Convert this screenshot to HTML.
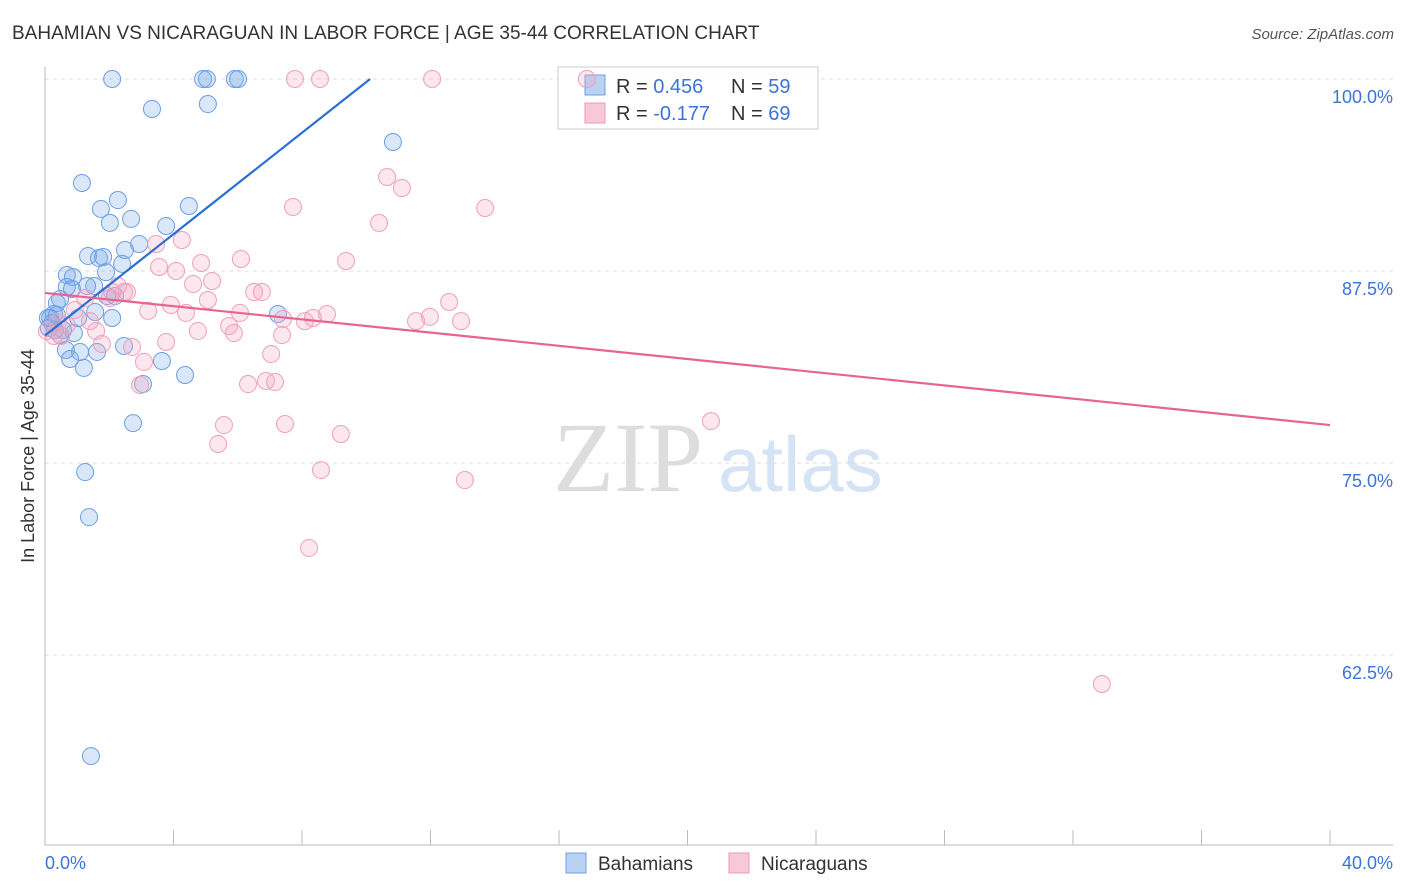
<!DOCTYPE html>
<html><head><meta charset="utf-8"><style>
body{margin:0;background:#fff;font-family:"Liberation Sans",sans-serif;}
svg{display:block}
</style></head><body>
<svg width="1406" height="892">
<text x="12" y="39" font-size="19" fill="#333">BAHAMIAN VS NICARAGUAN IN LABOR FORCE | AGE 35-44 CORRELATION CHART</text>
<text x="1394" y="39" font-size="15" fill="#555" font-style="italic" text-anchor="end">Source: ZipAtlas.com</text>
<g id="grid"></g>
<text x="553" y="491" font-size="100" fill="#ddd" font-family="Liberation Serif">ZIP</text>
<text x="718" y="491" font-size="78" fill="#d5e3f5">atlas</text>
<g id="pts"></g>
<g id="lines"></g>
<text transform="translate(34,456) rotate(-90)" font-size="18" fill="#333" text-anchor="middle">In Labor Force | Age 35-44</text>
<text x="45" y="869" font-size="18" fill="#3a74d8">0.0%</text>
<text x="1393" y="869" font-size="18" fill="#3a74d8" text-anchor="end">40.0%</text>
<g>
<rect x="558" y="67" width="260" height="62" fill="#fff" fill-opacity="0.85" stroke="#ccc"/>
<rect x="585" y="75" width="20" height="20" fill="#b9d2f3" stroke="#6f9fe0"/>
<rect x="585" y="103" width="20" height="20" fill="#f8c8d6" stroke="#ec9ab5"/>
<text x="616" y="93" font-size="20" fill="#333">R = <tspan fill="#3a74d8">0.456</tspan><tspan x="731">N = </tspan><tspan fill="#3a74d8">59</tspan></text>
<text x="616" y="120" font-size="20" fill="#333">R = <tspan fill="#3a74d8">-0.177</tspan><tspan x="731">N = </tspan><tspan fill="#3a74d8">69</tspan></text>
</g>
<g>
<rect x="566" y="853" width="20" height="20" fill="#b9d2f3" stroke="#6f9fe0"/>
<text x="598" y="870" font-size="19" fill="#333">Bahamians</text>
<rect x="729" y="853" width="20" height="20" fill="#f8c8d6" stroke="#ec9ab5"/>
<text x="761" y="870" font-size="19" fill="#333">Nicaraguans</text>
</g>
<g id="topG"></g>
</svg>
<script>
const yTicks=[100,87.5,75,62.5];
const yTickLabels=["100.0%","87.5%","75.0%","62.5%"];
const blueX=[2.09,4.92,5.04,5.91,6.01,3.33,5.07,10.83,1.15,2.27,1.74,2.68,2.02,3.77,4.48,2.93,2.49,1.34,1.68,1.81,2.40,0.68,0.87,1.90,0.68,0.84,1.53,1.31,0.47,0.37,1.93,2.18,0.28,0.37,0.16,0.22,1.03,2.09,1.56,0.12,0.56,0.90,2.46,0.65,1.09,1.62,0.78,3.64,1.21,4.36,3.05,2.74,1.25,1.37,1.43,7.25,0.31,0.47,0.09];
const blueY=[100,100,100,100,100,98.05,98.37,95.90,93.23,92.12,91.54,90.89,90.63,90.43,91.73,89.26,88.87,88.48,88.35,88.41,87.96,87.24,87.11,87.43,86.46,86.33,86.52,86.52,85.68,85.42,85.87,85.87,84.70,84.64,84.44,84.11,84.44,84.44,84.83,83.79,83.66,83.46,82.62,82.36,82.23,82.23,81.77,81.64,81.19,80.73,80.14,77.60,74.41,71.48,55.92,84.70,83.66,83.33,84.44];
const pinkX=[7.78,8.56,12.05,16.87,10.65,11.11,7.72,13.70,10.40,4.26,3.46,9.37,4.86,6.10,3.55,4.08,5.20,4.61,6.51,6.75,2.46,2.27,2.09,2.55,12.58,3.92,5.07,3.21,4.39,6.07,7.41,8.09,8.34,8.78,11.55,11.98,12.95,1.40,5.73,4.76,5.88,1.59,7.38,0.50,0.28,0.06,1.77,2.71,3.77,7.04,3.08,2.96,6.32,6.88,7.16,5.57,7.47,9.21,5.39,8.59,13.07,20.73,8.22,32.90,0.40,0.93,1.25,0.68,2.02];
const pinkY=[100,100,100,100,93.62,92.90,91.67,91.60,90.63,89.52,89.26,88.15,88.02,88.28,87.76,87.50,86.85,86.65,86.13,86.13,86.13,86.52,86.13,86.13,85.48,85.29,85.61,84.90,84.77,84.77,84.38,84.24,84.44,84.70,84.24,84.51,84.24,84.24,83.92,83.59,83.46,83.59,83.33,83.27,83.27,83.59,82.75,82.55,82.88,82.10,81.58,80.08,80.14,80.34,80.27,77.47,77.54,76.89,76.24,74.54,73.89,77.73,69.47,60.61,84.18,84.96,85.74,83.98,85.74];
const blueTrend=[0,83.3,10.12,100];
const pinkTrend=[0,86.07,40,77.47];
const NS="http://www.w3.org/2000/svg";
const X=v=>45+v/40*1285, Y=v=>79+(100-v)*15.36;
function mk(tag,attrs,parent){const e=document.createElementNS(NS,tag);for(const k in attrs)e.setAttribute(k,attrs[k]);parent.appendChild(e);return e;}
const grid=document.getElementById('grid');
yTicks.forEach((t,i)=>{
 const l=mk('line',{x1:45,x2:1393,y1:Y(t),y2:Y(t),stroke:'#ddd','stroke-dasharray':'4,4'},grid);
 
 
 const tx=mk('text',{x:1393,y:Y(t)+24,'font-size':18,fill:'#3a74d8','text-anchor':'end'},grid);
 tx.textContent=yTickLabels[i];
 
 
});
const ax=mk('path',{d:'M45 67V845H1393',stroke:'#bbb',fill:'none'},grid);


for(let i=1;i<=10;i++){const t=mk('line',{x1:X(i*4),x2:X(i*4),y1:830,y2:845,stroke:'#bbb'},grid);
 
 }
const pts=document.getElementById('pts');
const topG=document.getElementById('topG');
blueX.forEach((x,i)=>{const c=mk('circle',{cx:X(x),cy:Y(blueY[i]),r:8.5,fill:'rgba(120,170,235,0.28)',stroke:'#6b9fe4','stroke-width':1},pts);
 
 });
pinkX.forEach((x,i)=>{const c=mk('circle',{cx:X(x),cy:Y(pinkY[i]),r:8.5,fill:'rgba(244,170,195,0.28)',stroke:'#ee9fba','stroke-width':1},(X(x)>560&&Y(pinkY[i])<130)?topG:pts);
 
 });
const lines=document.getElementById('lines');
const bl=mk('line',{x1:X(blueTrend[0]),y1:Y(blueTrend[1]),x2:X(blueTrend[2]),y2:Y(blueTrend[3]),stroke:'#2a6fd6','stroke-width':2.2},lines);


const pl=mk('line',{x1:X(pinkTrend[0]),y1:Y(pinkTrend[1]),x2:X(pinkTrend[2]),y2:Y(pinkTrend[3]),stroke:'#e8648f','stroke-width':2.2},lines);


</script>
</body></html>
